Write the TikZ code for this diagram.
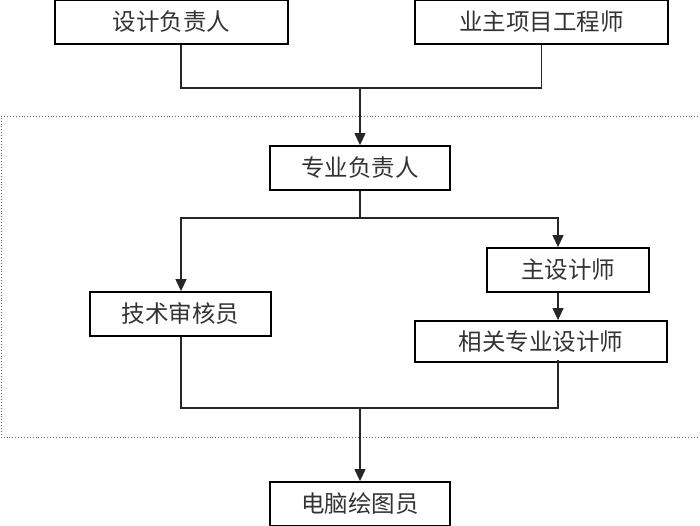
\documentclass[tikz,border=0pt]{standalone}
\usepackage{fontspec}
\setmainfont{Noto Sans CJK SC}
\usetikzlibrary{arrows.meta}
\definecolor{txt}{HTML}{333333}
\begin{document}
\begin{tikzpicture}[x=1pt,y=-1pt,
  box/.style={draw=black,line width=1.8pt,rectangle,inner sep=0pt,minimum height=44pt,
    font=\fontsize{23.5}{26}\selectfont,text=txt},
  conn/.style={line width=1.2pt,draw=black!85},
  arr/.style={conn,-{Triangle[length=12pt,width=11pt]}}]
\useasboundingbox (0,0) rectangle (700,526);
\draw[dotted,line width=0.9pt,black!60] (701,116) -- (1,116) -- (1,437) -- (701,437);
\node[box,minimum width=233pt] (a) at (171.5,22) {设计负责人};
\node[box,minimum width=253pt] (b) at (541.5,22) {业主项目工程师};
\node[box,minimum width=180pt] (c) at (360,168) {专业负责人};
\node[box,minimum width=162pt] (d) at (568,270) {主设计师};
\node[box,minimum width=181pt] (e) at (180.5,314) {技术审核员};
\node[box,minimum width=252pt,minimum height=41pt] (f) at (541,341.5) {相关专业设计师};
\node[box,minimum width=180pt] (g) at (360,504) {电脑绘图员};
\coordinate (t1) at (181,88);
\coordinate (t2) at (541.5,88);
\coordinate (t3) at (360,88);
\coordinate (m1) at (181,218);
\coordinate (m2) at (558,218);
\coordinate (m3) at (360,218);
\coordinate (b1) at (181,408);
\coordinate (b2) at (558,408);
\coordinate (b3) at (360,408);
\draw[conn] (a.south -| t1) -- (t1) -- (t2) -- (b.south -| t2);
\draw[arr] (t3) -- (c.north);
\draw[conn] (c.south) -- (m3);
\draw[arr] (m3) -- (m1) -- (e.north -| m1);
\draw[arr] (m3) -- (m2) -- (d.north -| m2);
\draw[arr] (d.south -| m2) -- (f.north -| m2);
\draw[conn] (e.south -| b1) -- (b1) -- (b2) -- ([yshift=3pt]f.south -| b2);
\draw[arr] (b3) -- (g.north);
\end{tikzpicture}
\end{document}
